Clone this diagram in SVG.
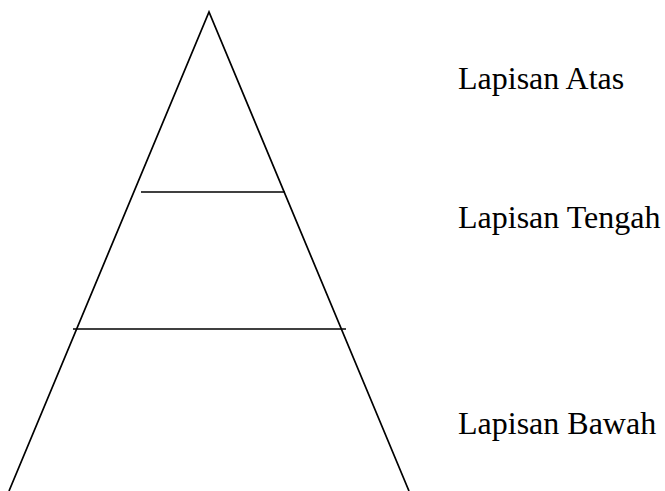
<svg xmlns="http://www.w3.org/2000/svg" width="665" height="491" viewBox="0 0 665 491">
<style>
.ln{stroke:#000;stroke-width:1.7;fill:none}
.lbl{font-family:"Liberation Serif","Times New Roman",serif;font-size:32px;fill:#000}
</style>
<rect width="665" height="491" fill="#fff"/>
<g id="connectors">
<polyline class="ln" points="9,491 209,12 409,491"/>
<line class="ln" x1="141" y1="192" x2="285" y2="192"/>
<line class="ln" x1="73" y1="329" x2="346" y2="329"/>
</g>
<g id="atas"><text class="lbl" x="458" y="89">Lapisan Atas</text></g>
<g id="tengah"><text class="lbl" x="458" y="228">Lapisan Tengah</text></g>
<g id="bawah"><text class="lbl" x="458" y="434">Lapisan Bawah</text></g>
</svg>
